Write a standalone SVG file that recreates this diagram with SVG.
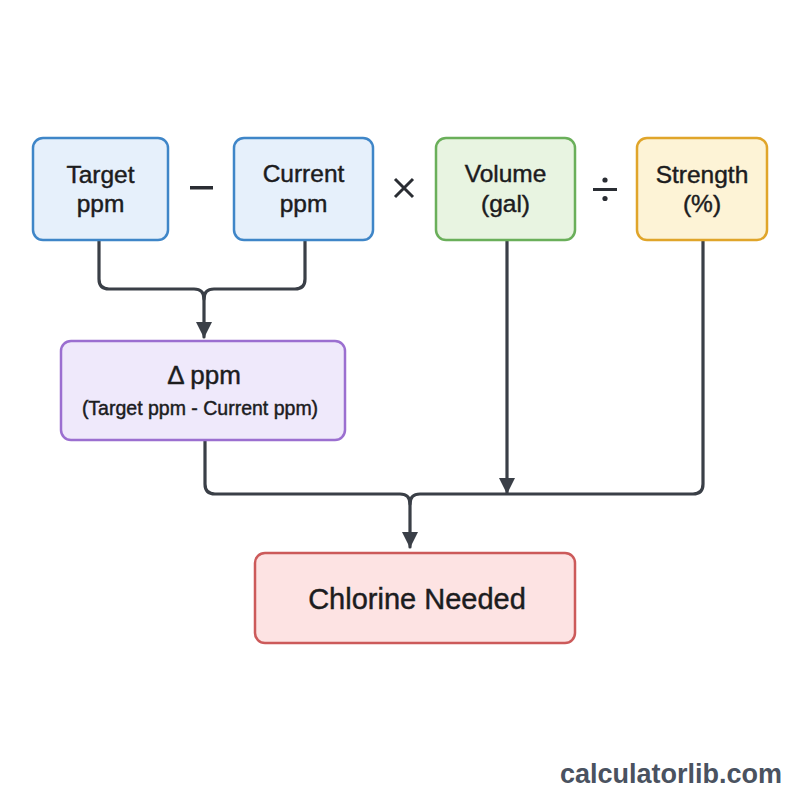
<svg xmlns="http://www.w3.org/2000/svg" width="800" height="800" viewBox="0 0 800 800">
<style>
.t{font-family:"Liberation Sans",Arial,sans-serif;fill:#1c1c1e;stroke:#1c1c1e;stroke-width:0.45;text-anchor:middle}
.b{stroke-width:2.5}
.c{fill:none;stroke:#3a3f47;stroke-width:3.2;stroke-linejoin:round;stroke-linecap:round}
</style>
<defs>
<marker id="a" viewBox="0 0 16 16" markerWidth="16" markerHeight="16" refX="15" refY="8" orient="auto" markerUnits="userSpaceOnUse">
<path d="M0,0 L16,8 L0,16 z" fill="#3a3f47"/>
</marker>
</defs>
<rect width="800" height="800" fill="#ffffff"/>
<g id="connectors">
<path class="c" d="M99,241 V279 Q99,289 109,289 H194 Q204,289 204,299 V337" marker-end="url(#a)"/>
<path class="c" d="M305,241 V279 Q305,289 295,289 H214 Q204,289 204,299"/>
<path class="c" d="M205,441 V484 Q205,494 215,494 H400 Q410,494 410,504 V547" marker-end="url(#a)"/>
<path class="c" d="M703,241 V484 Q703,494 693,494 H420 Q410,494 410,504"/>
<path class="c" d="M507,241 V493" marker-end="url(#a)"/>
</g>
<g id="target">
<rect class="b" x="33" y="138" width="135" height="102" rx="10" fill="#e6f0fb" stroke="#3f86c8"/>
<text class="t" x="100.5" y="183" font-size="24.5">Target</text>
<text class="t" x="100.5" y="212" font-size="24.5">ppm</text>
</g>
<g id="op-minus"><rect x="190" y="186" width="23" height="3.5" fill="#2a2d33"/></g>
<g id="current">
<rect class="b" x="234" y="138" width="139" height="102" rx="10" fill="#e6f0fb" stroke="#3f86c8"/>
<text class="t" x="303.5" y="182" font-size="24.5">Current</text>
<text class="t" x="303.5" y="212" font-size="24.5">ppm</text>
</g>
<g id="op-times"><path d="M395,179 L413,197 M413,179 L395,197" stroke="#2a2d33" stroke-width="3"/></g>
<g id="volume">
<rect class="b" x="436" y="138" width="139" height="102" rx="10" fill="#e8f4e1" stroke="#6aaf5a"/>
<text class="t" x="505.5" y="182" font-size="24.5">Volume</text>
<text class="t" x="505.5" y="212" font-size="24.5">(gal)</text>
</g>
<g id="op-divide">
<rect x="593" y="188" width="24" height="3" fill="#2a2d33"/>
<circle cx="605" cy="180" r="2.6" fill="#2a2d33"/>
<circle cx="605" cy="198.5" r="2.6" fill="#2a2d33"/>
</g>
<g id="strength">
<rect class="b" x="637" y="138" width="130" height="102" rx="10" fill="#fdf3d6" stroke="#e0a52a"/>
<text class="t" x="702" y="183" font-size="24.5">Strength</text>
<text class="t" x="702" y="212" font-size="24.5">(%)</text>
</g>
<g id="delta">
<rect class="b" x="61" y="341" width="284" height="99" rx="10" fill="#efe9fb" stroke="#9b6fd0"/>
<text class="t" x="204" y="384" font-size="26">Δ ppm</text>
<text class="t" x="200" y="415" font-size="19.5" stroke-width="0.2">(Target ppm - Current ppm)</text>
</g>
<g id="chlorine">
<rect class="b" x="255" y="553" width="320" height="90" rx="10" fill="#fde3e3" stroke="#cc5a5a"/>
<text class="t" x="417" y="609" font-size="29">Chlorine Needed</text>
</g>
<text x="671" y="783" font-family="'Liberation Sans',Arial,sans-serif" font-weight="bold" font-size="27" fill="#4a5260" text-anchor="middle">calculatorlib.com</text>
</svg>
